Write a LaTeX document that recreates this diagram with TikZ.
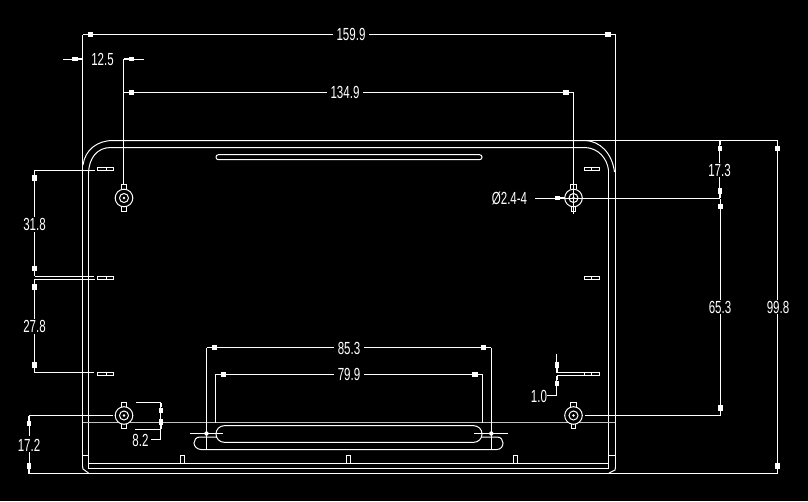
\documentclass[tikz,border=0pt]{standalone}
\usepackage{graphicx}
\usepackage{fontspec}
\setmainfont{Liberation Sans}
\usetikzlibrary{arrows.meta}
\newcommand{\dimtxt}[1]{\scalebox{.66}[1]{#1}}
\tikzset{
  part/.style={draw=white,line width=1pt},
  centre/.style={draw=white!75!black,line width=1pt},
  dimen/.style={draw=white,line width=1pt,-{Rectangle[length=5.5pt,width=4.4pt]Rectangle[length=5pt,width=1.2pt]}},
  extn/.style={draw=white,line width=1pt},
  lab/.style={text=white,font=\fontsize{17.5}{17.5}\selectfont,inner sep=0pt,anchor=center},
}
\begin{document}
\begin{tikzpicture}[x=1pt,y=-1pt]
\useasboundingbox[fill=black] (0,0) rectangle (808,501);
% body outline
\draw[part] (83,165) .. controls (85,150) and (97,140.5) .. (113,140.5) -- (585,140.5) .. controls (600,141) and (612,153) .. (614.5,172);
\draw[part] (88.5,173) .. controls (89,158) and (97,147.5) .. (111,147.5) -- (585,147.5) .. controls (598,148) and (607,158) .. (608.5,170);
\draw[part] (88.5,173) -- (88.5,468.5) -- (608.5,468.5) -- (608.5,170);
\draw[part] (82.5,455.5) -- (88.5,455.5) (608.5,455.5) -- (615.5,455.5);
\draw[part] (88.5,463.5) -- (608.5,463.5);
\draw[part] (82.5,466) -- (83,469) -- (88.5,473) (615.5,467) -- (615,470) -- (609,473);
\draw[centre] (82.5,422.5) -- (615.5,422.5);
% tabs on the lower edge
\draw[part] (180.5,463.5) -- (180.5,455.5) -- (184,455.5) -- (184,463.5);
\draw[part] (346.5,463.5) -- (346.5,455.5) -- (350,455.5) -- (350,463.5);
\draw[part] (513.5,463.5) -- (513.5,455.5) -- (517.5,455.5) -- (517.5,463.5);
% slots
\draw[part,rounded corners=2.4pt] (216,154.7) rectangle (482,159.7);
\draw[part,rounded corners=8.2pt] (216,425.7) rectangle (482,442.3);
\draw[part] (217,437) -- (200,437) .. controls (196,437) and (194,440) .. (194,443) .. controls (194,446) and (197,449.5) .. (201,449.5) -- (497,449.5) .. controls (501,449.5) and (503,446) .. (503,443) .. controls (503,440) and (501,437) .. (497,437) -- (482,437);
\draw[part] (190,433.5) -- (223,433.5) (474,433.5) -- (508,433.5);
% small rectangles
\foreach \yy in {167.3,276.2,372.3}{
  \draw[part] (97,\yy) rectangle (113.5,\yy+3.4) (106.5,\yy) -- (106.5,\yy+3.4);
  \draw[part] (584.5,\yy) rectangle (599.5,\yy+3.4) (591.7,\yy) -- (591.7,\yy+3.4);
}
% fixing holes
\foreach \xx/\yy in {124/198,573.5/198,124/415.5,573.5/415.5}{
  \draw[part] (\xx-2.8,\yy-9) -- (\xx-2.8,\yy-13.5) -- (\xx+2.8,\yy-13.5) -- (\xx+2.8,\yy-9);
  \draw[part] (\xx-2.4,\yy+8.5) -- (\xx-2.4,\yy+13) -- (\xx+2.4,\yy+13) -- (\xx+2.4,\yy+8.5);
  \draw[part,fill=black] (\xx,\yy) circle[radius=8.8];
  \draw[part] (\xx,\yy) circle[radius=4.5];
  \draw[part,fill=white] (\xx,\yy) circle[radius=.6];
}
\fill[white] (206.5,433.5) circle[radius=2.2] (491.3,433.5) circle[radius=2.2];
% witness lines
\draw[extn] (82.5,34.5) -- (82.5,466);
\draw[extn] (615.5,34.5) -- (615.5,467);
\draw[extn] (123.5,59) -- (123.5,184.5);
\draw[extn] (573.5,92.5) -- (573.5,214);
\draw[extn] (585,140.5) -- (778,140.5);
\draw[extn] (29,473.5) -- (778,473.5);
\draw[extn] (34.5,170) -- (95,170);
\draw[extn] (34.5,276.3) -- (94,276.3) (34.5,279.3) -- (95,279.3);
\draw[extn] (34.5,372.5) -- (94,372.5);
\draw[extn] (29,415.5) -- (113,415.5);
\draw[extn] (136,402.5) -- (161,402.5) (135,429.5) -- (161,429.5);
\draw[extn] (206.5,347.5) -- (206.5,450) (491.3,347.5) -- (491.3,450);
\draw[extn] (215.5,374.3) -- (215.5,422.5) (482.5,374.3) -- (482.5,422.5);
\draw[extn] (565,198.5) -- (720,198.5);
\draw[extn] (585,415.5) -- (720,415.5);
\draw[extn] (557,372.5) -- (584.5,372.5) (557,375.5) -- (584.5,375.5);
% labels
\node[lab] (d159) at (351,34) {\dimtxt{159.9}};
\node[lab] (d125) at (102.5,59.5) {\dimtxt{12.5}};
\node[lab] (d134) at (345,92) {\dimtxt{134.9}};
\node[lab] (d173) at (719.5,170) {\dimtxt{17.3}};
\node[lab] (d653) at (720,307) {\dimtxt{65.3}};
\node[lab] (d998) at (778,307) {\dimtxt{99.8}};
\node[lab] (d318) at (34.5,224.5) {\dimtxt{31.8}};
\node[lab] (d278) at (34.5,326.5) {\dimtxt{27.8}};
\node[lab] (d172) at (29,445) {\dimtxt{17.2}};
\node[lab] (d82) at (140.5,440) {\dimtxt{8.2}};
\node[lab] (d853) at (349,348) {\dimtxt{85.3}};
\node[lab] (d799) at (349,374.5) {\dimtxt{79.9}};
\node[lab] (d10) at (539,396) {\dimtxt{1.0}};
\node[lab] (dhole) at (509.5,198) {\dimtxt{Ø2.4-4}};
% dimension lines
\draw[dimen] (333,34.5) -- (82.5,34.5);
\draw[dimen] (369,34.5) -- (615.5,34.5);
\draw[dimen] (63,59) -- (82.5,59);
\draw[dimen] (144,59) -- (123.5,59);
\draw[dimen] (327,92.5) -- (123.5,92.5);
\draw[dimen] (363,92.5) -- (573.5,92.5);
\draw[dimen] (535,198) -- (565,198);
\draw[dimen] (719.8,163) -- (719.8,140.5);
\draw[dimen] (719.8,177) -- (719.8,198.5);
\draw[dimen] (720.3,300) -- (720.3,198.5);
\draw[dimen] (720.3,313.5) -- (720.3,415.5);
\draw[dimen] (777.5,300) -- (777.5,140.5);
\draw[dimen] (777.5,313.5) -- (777.5,473.5);
\draw[dimen] (34.5,217) -- (34.5,170);
\draw[dimen] (34.5,232) -- (34.5,276.3);
\draw[dimen] (34.5,319) -- (34.5,279.3);
\draw[dimen] (34.5,334) -- (34.5,372.5);
\draw[dimen] (29,436) -- (29,415.5);
\draw[dimen] (29,452) -- (29,473.5);
\draw[dimen] (160.7,416) -- (160.7,402.5);
\draw[dimen] (160.7,416) -- (160.7,429.5);
\draw[extn] (160.7,429.5) -- (160.7,439.5) -- (151,439.5);
\draw[dimen] (333.5,347.5) -- (206.5,347.5);
\draw[dimen] (364,347.5) -- (491.3,347.5);
\draw[dimen] (333.5,374.3) -- (215.5,374.3);
\draw[dimen] (364,374.3) -- (482.5,374.3);
\draw[dimen] (556.8,353.5) -- (556.8,372.5);
\draw[dimen] (556.8,395) -- (556.8,375.5);
\draw[extn] (556.8,395) -- (547,395);
\end{tikzpicture}
\end{document}
